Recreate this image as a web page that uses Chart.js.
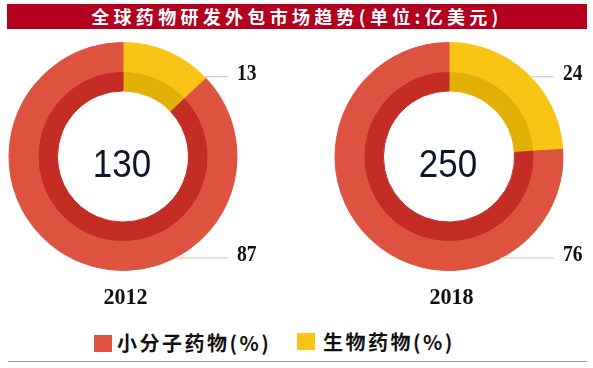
<!DOCTYPE html>
<html><head><meta charset="utf-8">
<script src="https://cdn.jsdelivr.net/npm/chart.js@4/dist/chart.umd.min.js"></script>
<style>
html,body{margin:0;padding:0;background:#fff;width:593px;height:368px;overflow:hidden;position:relative}
#title{position:absolute;left:7px;top:4px;width:580px;height:25px;background:#B3001F;color:#fff;font:bold 18px "Noto Sans CJK SC",sans-serif;letter-spacing:4.3px;text-align:center;line-height:25px;white-space:nowrap}
canvas{position:absolute}
.sw{position:absolute;width:18px;height:17px}
.lt{position:absolute;font:bold 20px "Noto Sans CJK SC",sans-serif;letter-spacing:2.5px;color:#111;line-height:20px;white-space:nowrap}
#rule{position:absolute;left:8px;top:361px;width:579px;height:1px;background:#9a9a9a}
</style></head>
<body>
<div id="title">全球药物研发外包市场趋势(单位:亿美元)</div>
<canvas id="c0" width="296" height="290" style="left:0;top:35px"></canvas>
<canvas id="c1" width="297" height="290" style="left:296px;top:35px"></canvas>
<div id="legend"></div>
<div id="rule"></div>
<script>
const years = ['2012', '2018'];
const totals = [130, 250];
const seriesLabels = ['小分子药物(%)', '生物药物(%)'];
const smallMolecule = [87, 76];
const biologics = [13, 24];

const COL = { small: '#DE533F', smallDark: '#C42D24', bio: '#F8C416', bioDark: '#E1B007' };

function scaledText(ctx, text, x, y, font, sx, align) {
  ctx.save();
  ctx.font = font; ctx.textAlign = align; ctx.textBaseline = 'alphabetic';
  ctx.translate(x, y); ctx.scale(sx, 1); ctx.fillText(text, 0, 0);
  ctx.restore();
}

const annot = {
  id: 'annot',
  afterDraw(chart, args, opts) {
    const ctx = chart.ctx;
    const arc = chart.getDatasetMeta(0).data[0];
    const cx = arc.x, cy = arc.y, r = arc.outerRadius;
    const i = opts.index;
    ctx.fillStyle = '#0d1526';
    scaledText(ctx, String(totals[i]), cx - 1, cy + 20.5, '38px "Liberation Sans"', 0.92, 'center');
    const items = [{ v: biologics[i], dy: -0.70 * r }, { v: smallMolecule[i], dy: 0.89 * r }];
    items.forEach(it => {
      const ly = cy + it.dy;
      const x0 = cx + Math.sqrt(r * r - it.dy * it.dy);
      ctx.save();
      ctx.strokeStyle = '#EBCABE'; ctx.lineWidth = 1.3;
      ctx.beginPath(); ctx.moveTo(x0, ly); ctx.lineTo(cx + 0.92 * r, ly); ctx.stroke();
      ctx.restore();
      ctx.fillStyle = '#111';
      scaledText(ctx, String(it.v), cx + 1.0 * r, ly + 3.5, 'bold 23px "Liberation Serif"', 0.85, 'left');
    });
    ctx.fillStyle = '#111';
    scaledText(ctx, years[i], cx + 2.5, cy + 147.5, 'bold 23px "Liberation Serif"', 0.96, 'center');
  }
};

const paddings = [
  { left: 8.5, right: 58.5, top: 7, bottom: 54 },
  { left: 38.5, right: 29.5, top: 7, bottom: 54 }
];

years.forEach((y, i) => {
  new Chart(document.getElementById('c' + i), {
    type: 'doughnut',
    data: {
      labels: [seriesLabels[1], seriesLabels[0]],
      datasets: [
        { data: [biologics[i], smallMolecule[i]], backgroundColor: [COL.bio, COL.small], borderColor: [COL.bio, COL.small], borderWidth: 1, weight: 29 },
        { data: [biologics[i], smallMolecule[i]], backgroundColor: [COL.bioDark, COL.smallDark], borderColor: [COL.bioDark, COL.smallDark], borderWidth: 1, weight: 19.5 }
      ]
    },
    options: {
      responsive: false,
      animation: false,
      cutout: '57.5%',
      layout: { padding: paddings[i] },
      plugins: { legend: { display: false }, tooltip: { enabled: false }, annot: { index: i } }
    },
    plugins: [annot]
  });
});

// legend
const lg = document.getElementById('legend');
const legendItems = [
  { text: seriesLabels[0], color: COL.small, sx: 94, sy: 335, tx: 117, ty: 333 },
  { text: seriesLabels[1], color: COL.bio, sx: 297, sy: 333, tx: 323, ty: 332 }
];
legendItems.forEach(it => {
  const s = document.createElement('div');
  s.className = 'sw'; s.style.left = it.sx + 'px'; s.style.top = it.sy + 'px'; s.style.background = it.color;
  lg.appendChild(s);
  const t = document.createElement('div');
  t.className = 'lt'; t.style.left = it.tx + 'px'; t.style.top = it.ty + 'px'; t.textContent = it.text;
  lg.appendChild(t);
});
</script>
</body></html>
